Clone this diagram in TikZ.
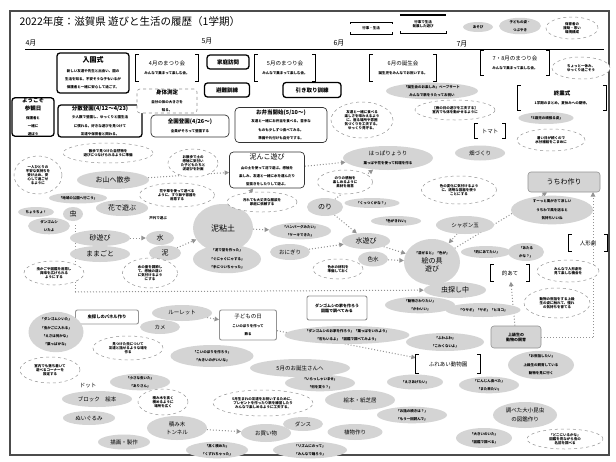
\documentclass[tikz,border=0pt]{standalone}
\usepackage{fontspec}
\setmainfont{Noto Sans CJK JP}
\usetikzlibrary{shapes.geometric,arrows.meta,backgrounds}
\definecolor{pg}{HTML}{D4D4D4}
\definecolor{ln}{HTML}{939393}
\newcommand\smf{\fontsize{3.5}{4.1}\selectfont\bfseries}
\newcommand\mdf{\fontsize{5.5}{6.6}\selectfont}
\newcommand\mnf{\fontsize{7}{8.4}\selectfont}
\newcommand\PE[5]{\node[play,minimum width=#3pt,minimum height=#4pt] (#1) at (#2) {#5};}
\newcommand\NE[5]{\node[note,minimum width=#3pt,minimum height=#4pt] (#1) at (#2) {#5};}
\newcommand\brk[1]{%
  \draw[line width=1.3pt] ([xshift=3pt]#1.north west) -- (#1.north west) -- (#1.south west) -- ([xshift=3pt]#1.south west);
  \draw[line width=1.3pt] ([xshift=-3pt]#1.north east) -- (#1.north east) -- (#1.south east) -- ([xshift=-3pt]#1.south east);}
\begin{document}
\begin{tikzpicture}[x=1pt,y=-1pt,
  base/.style={inner sep=0pt, align=center, font=\mnf},
  play/.style={base, ellipse, fill=pg},
  note/.style={base, ellipse, draw=ln, dashed, fill=white, line width=0.5pt, font=\smf},
  evt/.style={base, rectangle, rounded corners=3pt, draw=black, line width=1.3pt, fill=white},
  thinb/.style={base, rectangle, rounded corners=4pt, draw=black!80, line width=0.7pt, fill=white},
  dashb/.style={base, rectangle, rounded corners=3pt, draw=ln, dashed, line width=0.6pt, fill=white},
  grect/.style={base, rectangle, rounded corners=2pt, draw=ln, line width=0.9pt, fill=white},
  gfill/.style={base, rectangle, rounded corners=3pt, draw=ln, line width=0.6pt, fill=pg},
  plain/.style={base, rectangle},
  conn/.style={draw=ln, line width=1pt, dotted, -{Triangle[length=4.5pt,width=4.5pt]}},
  seg/.style={draw=ln, line width=1pt, dotted}
]
\useasboundingbox (0,0) rectangle (616,461);

% ---------- header ----------
\node[anchor=west,font=\fontsize{10.5}{12}\selectfont] (title) at (16,22) {2022年度：滋賀県 遊びと生活の履歴（1学期）};
\node[base] (apr) at (31,43) {4月};
\node[base] (may) at (207,41) {5月};
\node[base] (jun) at (339,43) {6月};
\node[base] (jul) at (462,44) {7月};

% legend
\node[plain,minimum width=42pt,minimum height=12pt,font=\smf] (lg1) at (371,28) {行事・生活};
\draw[line width=0.6pt] ([yshift=-2pt]lg1.north west) -- (lg1.north west) -- (lg1.north east) -- ([yshift=-2pt]lg1.north east);
\draw[line width=0.6pt] ([yshift=2pt]lg1.south west) -- (lg1.south west) -- (lg1.south east) -- ([yshift=2pt]lg1.south east);
\node[plain,minimum width=46pt,minimum height=18pt,font=\smf] (lg2) at (423,24) {行事で生活\\発展した遊び};
\draw[line width=1.4pt] (lg2.north west) -- (lg2.north east);
\draw[line width=0.6pt] ([yshift=2pt]lg2.south west) -- (lg2.south west) -- (lg2.south east) -- ([yshift=2pt]lg2.south east);
\PE{lg3}{478,27}{30}{10}{\smf あそび}
\PE{lg4}{520,26}{42}{15}{\smf 子どもの姿・\\\smf つぶやき}
\NE{lg5}{572,28}{52}{22}{保育者の\\援助・思い\\環境構成}

% ---------- events ----------
\node[evt,minimum width=72pt,minimum height=40pt] (nyuen) at (93,73) {{\mnf\bfseries 入園式}\\[1pt]{\smf 新しい友達や先生と出会い、園の}\\{\smf 生活を知る。不安そうな子もいるが}\\{\smf 保護者と一緒に安心して過ごす。}};
\node[evt,minimum width=42pt,minimum height=38pt] (sankan) at (33,117) {{\mdf\bfseries ようこそ}\\{\mdf\bfseries 参観日}\\{\smf 保護者と}\\{\smf 一緒に}\\{\smf 遊ぼう}};
\node[evt,minimum width=84pt,minimum height=32pt] (bunsan) at (100,121) {{\mdf\bfseries 分散登園(4/12〜4/23)}\\{\smf 少人数で登園し、ゆっくりと園生活}\\{\smf に慣れる。好きな遊びを見つけて}\\{\smf 友達や保育者と関わる。}};
\node[dashb,minimum width=60pt,minimum height=24pt] (shintai) at (167,101) {{\mdf\bfseries 身体測定}\\{\smf 自分の体の大きさを}\\{\smf 知る。}};
\node[thinb,minimum width=78pt,minimum height=22pt] (zenen) at (190,126) {{\mdf\bfseries 全園登園(4/26〜)}\\{\smf 全員がそろって登園する}};
\node[evt,minimum width=42pt,minimum height=14pt] (katei) at (228,62) {\mdf\bfseries 家庭訪問};
\node[evt,minimum width=45pt,minimum height=14pt] (hinan) at (227,90) {\mdf\bfseries 避難訓練};
\node[evt,minimum width=58pt,minimum height=15pt] (hikitori) at (312,90) {\mdf\bfseries 引き取り訓練};
\node[thinb,minimum width=75pt,minimum height=36pt] (doroasobi) at (267,170) {{\mnf 泥んこ遊び}\\[1pt]{\smf 山の土を使って泥で遊ぶ。感触を}\\{\smf 楽しみ、友達と一緒に水を運んだり}\\{\smf 型抜きをしたりして遊ぶ。}};
\node[thinb,minimum width=92pt,minimum height=35pt] (bento) at (281,125) {{\mdf\bfseries お弁当開始(5/10〜)}\\{\smf 友達と一緒にお弁当を食べる。苦手な}\\{\smf ものも少しずつ食べてみる。}\\{\smf 準備や片付けも自分でする。}};

% bracket nodes
\node[plain,minimum width=62pt,minimum height=26pt] (m4) at (167,68) {{\mdf 4月のまつり会}\\{\smf みんなで集まって楽しむ会。}};
\node[plain,minimum width=60pt,minimum height=26pt] (m5) at (285,68) {{\mdf 5月のまつり会}\\{\smf みんなで集まって楽しむ会。}};
\node[plain,minimum width=66pt,minimum height=26pt] (tanjo6) at (403,68) {{\mdf 6月の誕生会}\\{\smf 誕生児をみんなでお祝いする。}};
\node[plain,minimum width=68pt,minimum height=24pt] (m78) at (515,63) {{\mdf 7・8月のまつり会}\\{\smf みんなで集まって楽しむ会。}};
\node[plain,minimum width=88pt,minimum height=24pt] (shugyo) at (562,98) {{\mdf\bfseries 終業式}\\{\smf 1学期のまとめ。夏休みへの期待。}};
\node[plain,minimum width=30pt,minimum height=14pt] (tomato) at (490,131) {\mdf トマト};
\node[plain,minimum width=38pt,minimum height=17pt] (mato) at (510,273) {\mdf 的あて};
\node[plain,minimum width=38pt,minimum height=17pt] (ningyo) at (588,243) {\mdf 人形劇};
\node[plain,minimum width=64pt,minimum height=18pt] (fureai) at (448,364) {\mdf ふれあい動物園};
\brk{m4}\brk{m5}\brk{tanjo6}\brk{m78}\brk{shugyo}\brk{tomato}\brk{mato}\brk{ningyo}\brk{fureai}

% gray rects
\node[grect,minimum width=63pt,minimum height=14pt,font=\fontsize{4.3}{5}\selectfont\bfseries] (panel) at (107,317) {虫探しのパネル作り};
\node[grect,minimum width=57pt,minimum height=30pt] (kodomo) at (248,325) {{\mdf 子どもの日}\\{\smf こいのぼりを作って}\\{\smf 飾る}};
\node[grect,minimum width=60pt,minimum height=24pt,font=\fontsize{4}{5}\selectfont\bfseries] (dango) at (337,308) {ダンゴムシの家を作ろう\\図鑑で調べてみる};
\node[gfill,minimum width=50pt,minimum height=22pt,font=\fontsize{4}{5}\selectfont\bfseries] (jokyu) at (516,337) {上級生の\\動物の飼育};
\node[gfill,minimum width=72pt,minimum height=20pt] (uchiwa) at (564,182) {うちわ作り};

% ---------- play ellipses ----------
\PE{g1}{432,91}{92}{16}{\smf 「誕生会のお楽しみ」ペープサート\\\smf みんなで歌をうたってお祝い}
\PE{g2}{546,118}{55}{12}{\smf 「5歳児の頑張る姿」}
\PE{hatake}{480,153}{50}{15}{\mdf 畑づくり}
\PE{oyama}{113,180}{72}{18}{お山へ散歩}
\PE{g5}{78,198}{58}{11}{\smf 「地域の公園へ行こう」}
\PE{hana}{122,208}{52}{16}{花で遊ぶ}
\PE{g7}{36,212}{36}{10}{\smf ちょうちょ！}
\PE{mushi}{73,214}{20}{14}{虫}
\PE{g9}{49,226}{42}{14}{\smf ダンゴムシ\\\smf いたよ}
\PE{suna}{100,238}{60}{16}{砂遊び}
\PE{mamagoto}{100,254}{60}{16}{ままごと}
\PE{mizu}{160,238}{28}{14}{水}
\PE{doro}{165,253}{32}{15}{泥}
\PE{nendo}{223,228}{60}{48}{\fontsize{8}{9}\selectfont 泥粘土}
\PE{g15}{227,259}{68}{26}{\smf 「泥で型を作った」\\\smf 「ぐにゃぐにゃする」\\\smf 「手についちゃった」}
\PE{g16}{300,231}{62}{14}{\smf 「ハンバーグみたい」\\\smf 「ケーキできた」}
\PE{onigiri}{290,252}{40}{16}{\mdf おにぎり}
\PE{happa}{388,158}{90}{24}{{\mdf はっぱりょうり}\\{\smf 葉っぱや花を使って料理を作る}}
\PE{nori}{325,207}{36}{18}{のり}
\PE{g20}{372,203}{55}{10}{\smf 「くっつくかな？」}
\PE{g21}{396,221}{50}{10}{\smf 「色がきれい」}
\PE{shabon}{465,225}{58}{18}{\mdf シャボン玉}
\PE{mizuasobi}{366,241}{48}{16}{水遊び}
\PE{iromizu}{373,259}{30}{15}{\mdf 色水}
\PE{enogu}{432,262}{56}{46}{{\smf 「混ぜると」「色が」}\\絵の具\\遊び}
\PE{mushisagashi}{455,290}{62}{16}{虫探し中}
\PE{g27}{486,252}{50}{12}{\smf 「的にあてたい」}
\PE{g28}{526,252}{36}{18}{\smf 「あたる\\\smf かな？」}
\PE{g29}{552,210}{82}{26}{\smf すーっと風がきて涼しい\\\smf うちわで風を送ると\\\smf 気持ちいいね}
\PE{g30}{56,332}{55}{26}{\smf 「ダンゴムシいた」\\\smf 「虫かごに入れる」\\\smf 「えさは何かな」\\\smf 「葉っぱかな」}
\PE{roulette}{182,313}{60}{16}{\mdf ルーレット}
\PE{kame}{160,327}{40}{14}{\mdf カメ}
\PE{g33}{212,356}{83}{22}{\smf 「こいのぼりを作ろう」\\\smf 「大きいのがいいな」}
\PE{g34}{347,335}{125}{18}{\smf 「ダンゴムシのお家を作ろう」「葉っぱをいれよう」\\\smf 「石もいるよ」「図鑑で調べてみよう」}
\PE{g35}{420,305}{70}{16}{\smf 「動物さわりたい」\\\smf 「かわいい」}
\PE{g36}{483,310}{75}{14}{\smf 「ウサギ」「ヤギ」「ヒヨコ」}
\PE{g37}{445,342}{78}{18}{\smf 「ふわふわ」\\\smf 「こわくないよ」}
\PE{g38}{541,365}{66}{26}{\smf 「お世話したい」\\\smf 上級生の飼育している\\\smf 動物を見に行く}
\PE{g39}{415,382}{56}{15}{\smf 「えさあげたい」}
\PE{g40}{489,385}{60}{16}{\smf 「にんじん食べた」\\\smf 「また来たい」}
\PE{ehon}{360,400}{70}{20}{\mdf 絵本・紙芝居}
\PE{g42}{412,415}{70}{16}{\smf 「お話の続きは？」\\\smf 「もう一回読んで」}
\PE{shokubutsu}{355,432}{55}{16}{\mdf 植物作り}
\PE{g44}{310,450}{74}{16}{\smf 「リズムにのって」\\\smf 「みんなで踊ろう」}
\PE{dance}{303,424}{40}{14}{\mdf ダンス}
\PE{okaimono}{266,433}{50}{18}{\mdf お買い物}
\PE{g47}{320,383}{70}{14}{\smf 「いらっしゃいませ」\\\smf 「何を買う？」}
\PE{tanjo5}{300,368}{100}{18}{\mdf 5月のお誕生さんへ}
\PE{tsumiki}{177,428}{60}{24}{{\mdf 積み木}\\{\mdf トンネル}}
\PE{g50}{217,450}{62}{14}{\smf 「高く積めた」\\\smf 「くずれちゃった」}
\PE{g51}{140,382}{60}{14}{\smf 「小さな虫いた」\\\smf 「ありさん」}
\node[base,font=\mdf] (dot) at (88,386) {ドット};
\PE{block}{97,399}{70}{16}{\mdf ブロック\quad 絵本}
\PE{nuigurumi}{89,418}{52}{14}{\mdf ぬいぐるみ}
\PE{byoga}{124,442}{52}{15}{\mdf 描画・製作}
\PE{g55}{484,438}{56}{20}{\smf 「大きいのいた」\\\smf 「図鑑で調べる」}
\PE{zukan}{525,415}{64}{26}{{\mdf 調べた大小昆虫}\\{\mdf の図鑑作り}}
\node[base,font=\smf] (kogai) at (158,218) {戸外で遊ぶ};

% ---------- teacher notes ----------
\NE{n1}{581,68}{58}{22}{ちょっと一休み、\\ゆっくり過ごそう}
\NE{n2}{551,140}{68}{22}{暑い日が続くので\\水分補給をこまめに}
\NE{n3}{455,110}{80}{20}{【雨の日の遊びを工夫する】\\室内でも体を動かせるように}
\NE{n4}{362,120}{62}{36}{友達と一緒に食べる\\楽しさを味わえるよう\\に、座る場所や雰囲\\気づくりを工夫する。\\ゆっくり見守る。}
\NE{n5}{108,153}{90}{20}{散歩で見つけた自然物を\\遊びにつなげられるように準備}
\NE{n6}{38,175}{48}{38}{一人ひとりの\\不安な気持ちを\\受け止め、安\\心して過ごせ\\るように}
\NE{n7}{193,163}{50}{28}{お散歩で土の\\感触に気付い\\た子どもたちと\\泥遊びを計画}
\NE{n8}{177,195}{75}{24}{花や草を使って遊べる\\ように、すり鉢や容器を\\用意する}
\NE{n9}{262,202}{70}{20}{汚れても大丈夫な服装を\\家庭に依頼する}
\NE{n10}{54,273}{60}{24}{虫かごや図鑑を用意し\\興味を広げられる\\ようにする}
\NE{n11}{150,273}{55}{30}{水の量を調節し\\て、感触の違い\\に気付けるよう\\にする}
\NE{n12}{345,182}{55}{24}{のりの感触を\\楽しめるように\\素材を用意}
\NE{n13}{459,190}{75}{28}{色の変化に気付けるよう\\に、透明な容器を使う\\ことにする}
\NE{n14}{338,269}{50}{20}{色水の材料を\\準備しておく}
\NE{n15}{568,271}{62}{22}{みんなで人形劇を\\見て楽しむ機会を}
\NE{n16}{557,303}{66}{30}{動物の世話をする上級\\生の姿に触れて、憧れ\\の気持ちを育てる}
\NE{n17}{128,348}{70}{24}{見つけた虫について\\友達と話せるような場を\\作る}
\NE{n18}{50,370}{60}{26}{室内でも落ち着いて\\遊べるコーナーを\\設定する}
\NE{n19}{263,403}{100}{26}{5月生まれの友達をお祝いするために、\\プレゼントを作ったり歌を練習したり\\みんなで楽しめるように工夫する。}
\NE{n20}{163,402}{50}{26}{積み木を高く\\積めるように\\場所を広く}
\NE{n21}{565,439}{76}{20}{「どこにいるかな」\\図鑑を見ながら虫の\\名前を調べる}

% ---------- background: frame and connectors ----------
\begin{pgfonlayer}{background}
\fill[white] (0,0) rectangle (616,461);
\draw[line width=1.2pt, draw=black!70] (10,11) rectangle (609,455);
\draw[line width=0.8pt] (25,49) -- (604,49);
\coordinate (f1) at (75,225);
\coordinate (f2) at (75,292);
\coordinate (c1) at (593,337);
\coordinate (c2) at (593,192);
\draw[seg] (f1) -- (f2);
\draw[conn] (f2) -- (mushisagashi);
\draw[seg] (jokyu.east) -- (c1);
\draw[conn] (c1) -- (c2);
\draw[conn] (suna) -- (mizu);
\draw[conn] (doro) -- (nendo);
\draw[conn] (nendo) -- (g16);
\draw[conn] (nendo) -- (doroasobi);
\draw[conn] (oyama) -- (doroasobi);
\draw[conn] (doroasobi) -- (happa);
\draw[conn] (onigiri) -- (mizuasobi);
\draw[conn] (nori) -- (mizuasobi);
\draw[conn] (nori) -- (happa);
\draw[conn] (mizuasobi) -- (enogu);
\draw[conn] (iromizu) -- (enogu);
\draw[conn] (enogu) -- (uchiwa);
\draw[conn] (shabon) -- (enogu);
\draw[conn] (jokyu) -- (mato);
\draw[conn] (roulette) -- (kodomo);
\draw[conn] (kodomo) -- (fureai);
\draw[conn] (tsumiki) -- (okaimono);
\end{pgfonlayer}
\end{tikzpicture}
\end{document}
